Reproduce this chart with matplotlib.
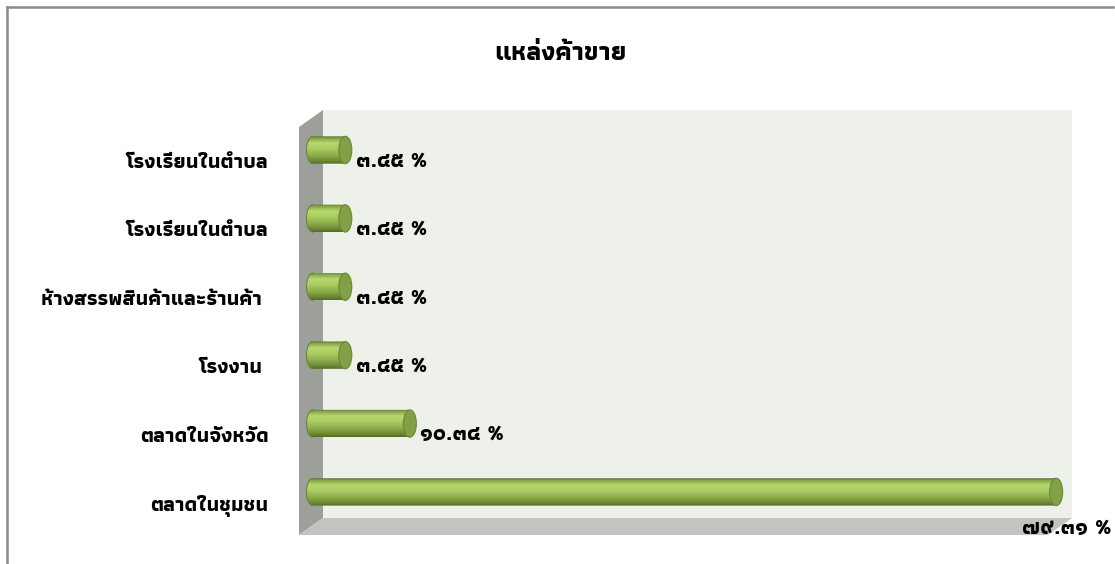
import matplotlib
matplotlib.use('Agg')
import matplotlib.pyplot as plt
import numpy as np
from matplotlib.colors import LinearSegmentedColormap
from matplotlib.lines import Line2D
from matplotlib.patches import Ellipse, Polygon
from matplotlib.transforms import ScaledTranslation

plt.rcParams['font.family'] = ['Athiti', 'DejaVu Sans']
plt.rcParams['font.weight'] = 'bold'

# data, bottom to top as in the chart
categories = ['ตลาดในชุมชน', 'ตลาดในจังหวัด', 'โรงงาน ', 'ห้างสรรพสินค้าและร้านค้า ',
              'โรงเรียนในตำบล', 'โรงเรียนในตำบล']
percent = [79.31, 10.34, 3.45, 3.45, 3.45, 3.45]
title = 'แหล่งค้าขาย'

THAI_DIGITS = str.maketrans('0123456789', '๐๑๒๓๔๕๖๗๘๙')


def thai_label(v):
    return f'{v:.2f} %'.translate(THAI_DIGITS)


W, H = 1115, 564
fig = plt.figure(figsize=(W / 100, H / 100), dpi=100)

# chart frame (only left and top edges are visible in the crop)
fig.add_artist(Line2D([6.5 / W, 6.5 / W], [0, 1 - 6.5 / H], color='#8a8a8a', lw=1.8))
fig.add_artist(Line2D([6.5 / W, 1113 / W], [1 - 6.5 / H, 1 - 6.5 / H], color='#8a8a8a', lw=1.8))

# plot area in pixels: x 299..1072, y 110..535
ax = fig.add_axes([299 / W, (H - 535) / H, (1072 - 299) / W, (535 - 110) / H])
ax.set_xlim(-1.49, 81.0)
ax.set_ylim(-0.63, 5.585)
for s in ax.spines.values():
    s.set_visible(False)
ax.set_xticks([])

# 3d walls
dx, dy = 24 / 773, 17 / 425
ax.add_patch(Polygon([(dx, dy), (1, dy), (1, 1), (dx, 1)], closed=True, transform=ax.transAxes,
                     facecolor='#eef1ea', edgecolor='none', zorder=0))
ax.add_patch(Polygon([(0, 0), (dx, dy), (dx, 1), (0, 1 - dy)], closed=True, transform=ax.transAxes,
                     facecolor='#9d9f9a', edgecolor='none', zorder=0))
ax.add_patch(Polygon([(0, 0), (1 - dx, 0), (1, dy), (dx, dy)], closed=True, transform=ax.transAxes,
                     facecolor='#c2c4bf', edgecolor='none', zorder=0))

# cylinder shading
cyl = LinearSegmentedColormap.from_list('cyl', [
    (0.0, '#56722a'), (0.08, '#88a84a'), (0.25, '#b8d870'), (0.45, '#aacb60'),
    (0.7, '#8dab4a'), (0.9, '#6b8834'), (1.0, '#526c28')])
grad = np.linspace(0, 1, 64).reshape(-1, 1)

bar_h = 0.4
cap_w = 13 / 9.37
t = np.linspace(np.pi / 2, 3 * np.pi / 2, 30)
for i, v in enumerate(percent):
    y0, y1 = i - bar_h / 2, i + bar_h / 2
    # outline: rectangle with a rounded left end
    xs = np.concatenate([[v], cap_w / 2 * np.cos(t), [v]])
    ys = np.concatenate([[y1], i + bar_h / 2 * np.sin(t), [y0]])
    clip = Polygon(np.column_stack([xs, ys]), closed=True, transform=ax.transData,
                   facecolor='none', edgecolor='none')
    ax.add_patch(clip)
    im = ax.imshow(grad, cmap=cyl, aspect='auto', extent=[-cap_w / 2, v, y0, y1],
                   origin='upper', zorder=3, interpolation='bilinear')
    im.set_clip_path(clip)
    # left rim line
    ax.plot(cap_w / 2 * np.cos(t), i + bar_h / 2 * np.sin(t), color='#6a8734', lw=0.8, zorder=4)
    # right end cap
    ax.add_patch(Ellipse((v, i), cap_w, bar_h, facecolor='#82a045', edgecolor='#6b8834',
                         lw=0.8, zorder=5))
    if v > 50:
        off = (-34, -37)
    else:
        off = (cap_w / 2 * 9.37 + 4, -11)
    ax.annotate(thai_label(v), (v, i), xytext=off, textcoords='offset pixels',
                ha='left', va='center', fontsize=16, fontweight='bold', color='black', zorder=6)

ax.set_yticks(range(len(categories)))
ax.set_yticklabels(categories, fontsize=15, fontweight='bold')
ax.tick_params(axis='y', length=0, pad=22)
for lab in ax.get_yticklabels():
    lab.set_transform(lab.get_transform() + ScaledTranslation(0, -0.11, fig.dpi_scale_trans))

fig.text(560 / W, 1 - 53 / H, title, ha='center', va='center', fontsize=19, fontweight='bold')

fig.savefig('out.png', dpi=100, facecolor='white')
